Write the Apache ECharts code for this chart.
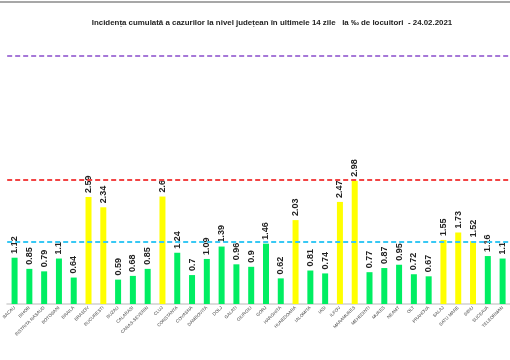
<!DOCTYPE html>
<html><head><meta charset="utf-8">
<script src="https://cdn.jsdelivr.net/npm/echarts@6/dist/echarts.min.js"></script>
<style>html,body{margin:0;padding:0;background:#fff}#c{width:510px;height:360px}</style>
</head><body><div id="c"></div>
<script>
const titleText = 'Incidența cumulată a cazurilor la nivel județean în ultimele 14 zile   la ‰ de locuitori  - 24.02.2021';
const counties = ['BACAU','BIHOR','BISTRITA NASAUD','BOTOSANI','BRAILA','BRASOV','BUCURESTI','BUZAU','CALARASI','CARAS-SEVERIN','CLUJ','CONSTANTA','COVASNA','DAMBOVITA','DOLJ','GALATI','GIURGIU','GORJ','HARGHITA','HUNEDOARA','IALOMITA','IASI','ILFOV','MARAMURES','MEHEDINTI','MURES','NEAMT','OLT','PRAHOVA','SALAJ','SATU MARE','SIBIU','SUCEAVA','TELEORMAN'];
const incidence = [1.12,0.85,0.79,1.1,0.64,2.59,2.34,0.59,0.68,0.85,2.6,1.24,0.7,1.09,1.39,0.96,0.9,1.46,0.62,2.03,0.81,0.74,2.47,2.98,0.77,0.87,0.95,0.72,0.67,1.55,1.73,1.52,1.16,1.1];
const thresholds = [1.5, 3, 6];
const thresholdColors = ['#38c8f4', '#f24444', '#a678d8'];

const chart = echarts.init(document.getElementById('c'), null, {renderer:'canvas'});
chart.setOption({
  animation:false,
  backgroundColor:'#fff',
  title:{text:titleText,left:267,top:14,textAlign:'center',
    textStyle:{fontFamily:'Liberation Sans',fontSize:7.9,fontWeight:'bold',color:'#222'}},
  graphic:[{type:'line',shape:{x1:0,y1:2,x2:510,y2:2},style:{stroke:'#8a8a8a',lineWidth:1.5}}],
  grid:{left:-1,right:-11,top:14.7,bottom:56},
  xAxis:{type:'category',data:counties,
    axisLine:{lineStyle:{color:'#dcdcdc',width:2}},axisTick:{show:false},
    axisLabel:{interval:0,rotate:45,fontSize:4.5,color:'#444',margin:3,fontFamily:'Liberation Sans'}},
  yAxis:{type:'value',min:0,max:7,show:false,splitLine:{show:false}},
  series:[{type:'bar',data:incidence.map(v=>({value:v,itemStyle:{color:v>=1.5?'#ffff00':'#00ee62'}})),
    barWidth:6,
    label:{show:true,position:'top',rotate:90,align:'left',verticalAlign:'middle',distance:4,
      fontSize:9,fontWeight:'bold',fontFamily:'Liberation Sans',color:'#222'},
    markLine:{silent:true,symbol:'none',label:{show:false},
      data:thresholds.map((t,i)=>({yAxis:t,lineStyle:{color:thresholdColors[i],type:[5,3],width:1.8}}))}
  }]
});
</script></body></html>
